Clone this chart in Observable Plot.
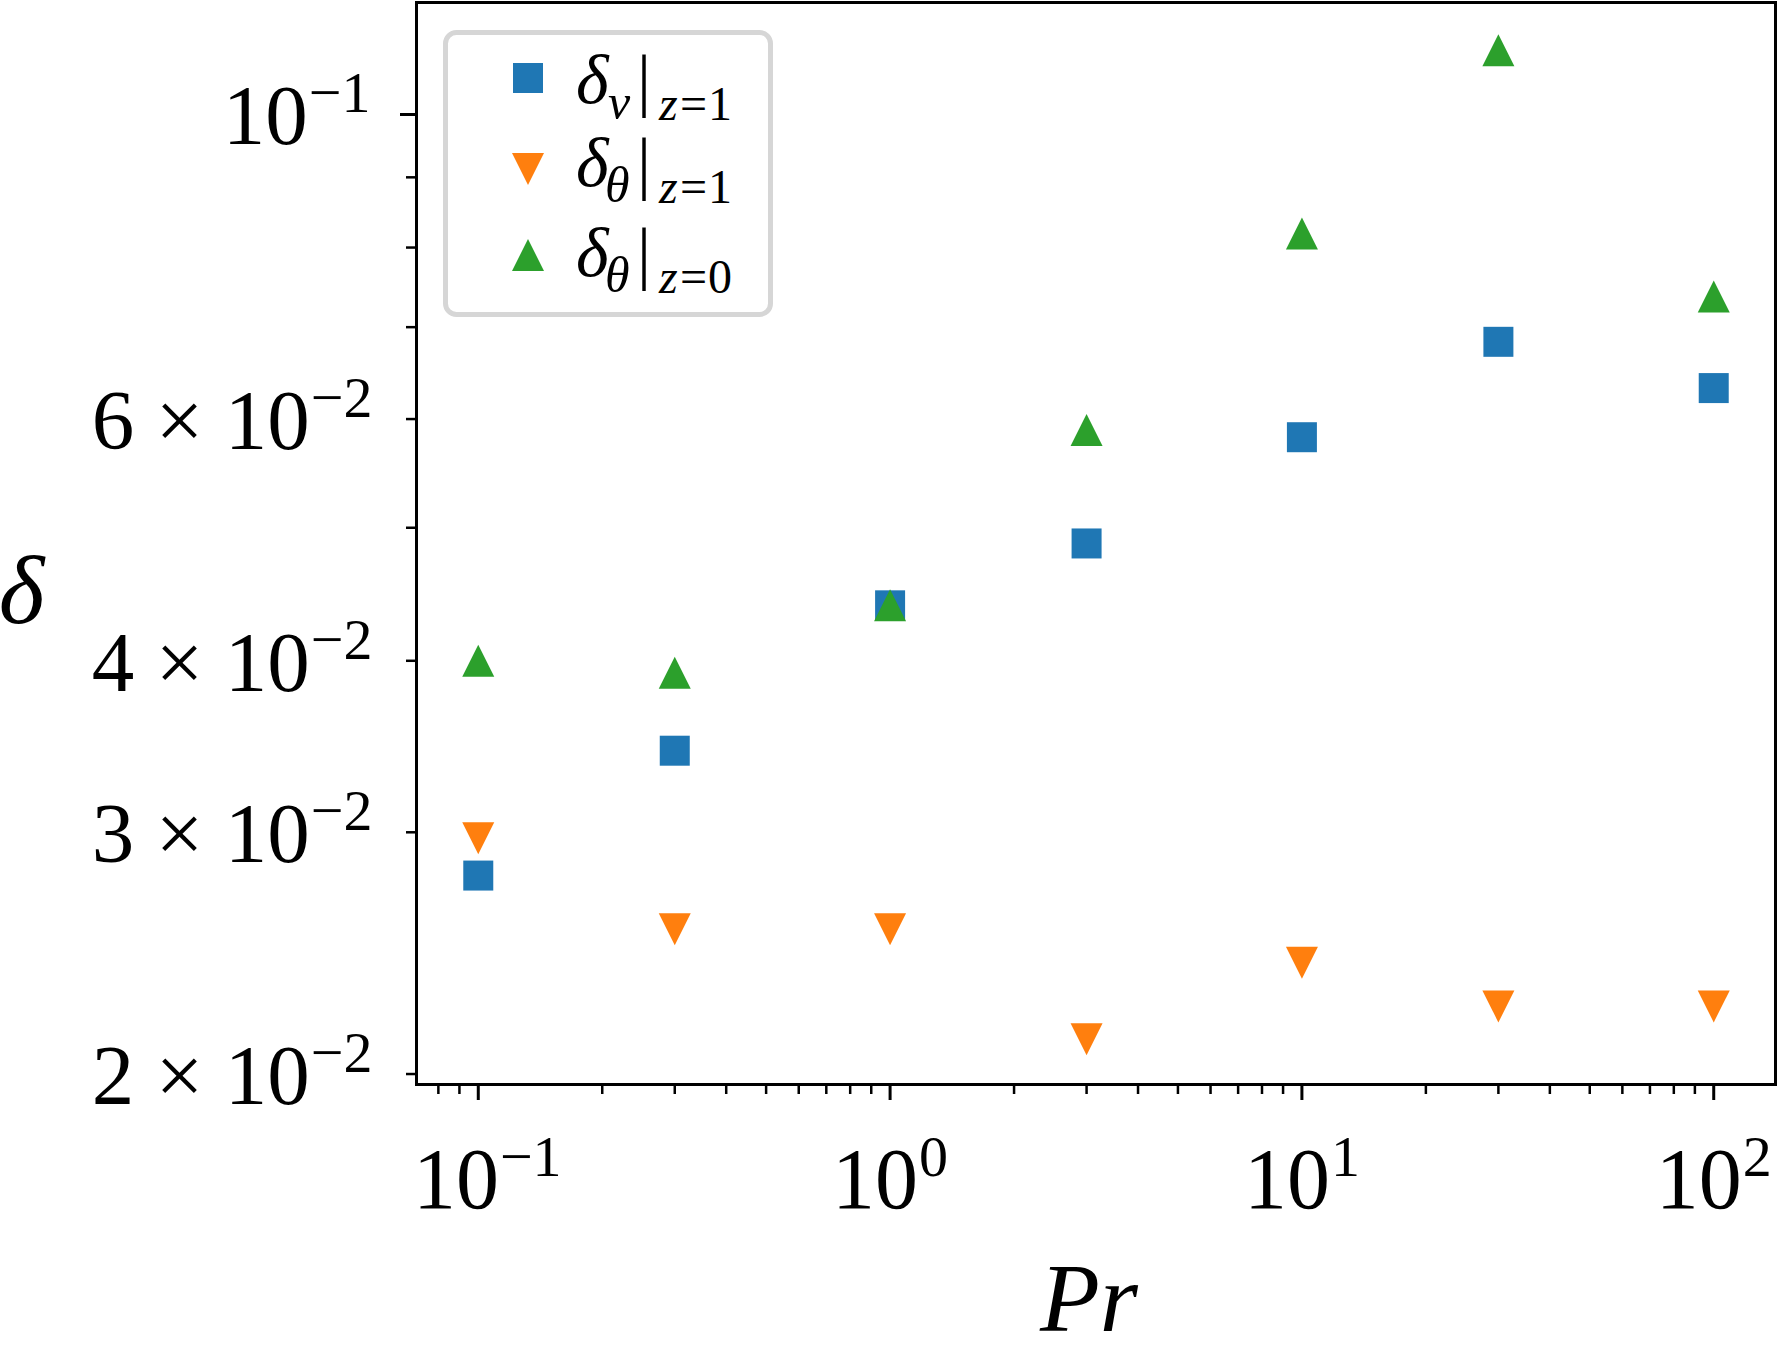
<!DOCTYPE html>
<html>
<head>
<meta charset="utf-8">
<script src="https://cdn.jsdelivr.net/npm/d3@7"></script>
<script src="https://cdn.jsdelivr.net/npm/@observablehq/plot@0.6"></script>
<style>
  html, body { margin: 0; padding: 0; background: #fff; }
  #wrap { width: 1778px; height: 1359px; }
  svg { display: block; }
</style>
</head>
<body>
<div id="wrap"></div>
<script>
// ---- data ----
const Pr = [0.1, 0.3, 1, 3, 10, 30, 100];
const deltaNuZ1    = [0.0279, 0.0344, 0.0439, 0.0487, 0.0582, 0.0683, 0.0632];
const deltaThetaZ1 = [0.0297, 0.0255, 0.0255, 0.0212, 0.0241, 0.0224, 0.0224];
const deltaThetaZ0 = [0.0400, 0.0392, 0.0439, 0.0589, 0.0819, 0.1114, 0.0737];
const seriesColors = ["#1f77b4", "#ff7f0e", "#2ca02c"];

const xTicks = [0.1, 1, 10, 100];
const xTickLabels = ["10^\u22121", "10^0", "10^1", "10^2"];
const yMajorTicks = [0.1];
const yMajorLabels = ["10^\u22121"];
const yLabeledMinorTicks = [0.02, 0.03, 0.04, 0.06];
const yLabeledMinorLabels = ["2 \u00d7 10^\u22122", "3 \u00d7 10^\u22122", "4 \u00d7 10^\u22122", "6 \u00d7 10^\u22122"];
const yUnlabeledMinorTicks = [0.05, 0.07, 0.08, 0.09];

const xDomain = [10 ** -1.15, 10 ** 2.15];
const yDomain = [10 ** -1.7066, 10 ** -0.9184];

const xMinorTicks = [];
for (let e = -2; e <= 1; e++) for (let m = 2; m <= 9; m++) {
  const v = m * 10 ** e;
  if (v > xDomain[0] && v < xDomain[1]) xMinorTicks.push(v);
}

// ---- matplotlib-like marker shapes ----
const rad = (size) => Math.sqrt(size / Math.PI);
const squareSym = {draw(c, s) { const r = rad(s); c.moveTo(-r, -r); c.lineTo(r, -r); c.lineTo(r, r); c.lineTo(-r, r); c.closePath(); }};
const triUpSym  = {draw(c, s) { const r = rad(s); c.moveTo(0, -r); c.lineTo(r, r); c.lineTo(-r, r); c.closePath(); }};
const triDnSym  = {draw(c, s) { const r = rad(s); c.moveTo(0, r); c.lineTo(r, -r); c.lineTo(-r, -r); c.closePath(); }};

const rows = (ys) => Pr.map((x, i) => ({x, y: ys[i]}));

const serif = "'Liberation Serif', 'Times New Roman', serif";

const chart = Plot.plot({
  width: 1778,
  height: 1359,
  marginLeft: 416,
  marginRight: 3,
  marginTop: 2,
  marginBottom: 275,
  style: {fontFamily: serif, background: "white", color: "black", overflow: "visible"},
  x: {type: "log", domain: xDomain},
  y: {type: "log", domain: yDomain},
  marks: [
    Plot.axisX(xMinorTicks, {tickSize: 10, strokeWidth: 2.5, tickFormat: () => "", label: null}),
    Plot.axisX(xTicks, {tickSize: 16, strokeWidth: 3, tickPadding: 46, fontSize: 86,
      tickFormat: (d) => xTickLabels[xTicks.indexOf(d)], label: null}),
    Plot.axisY(yUnlabeledMinorTicks, {tickSize: 10, strokeWidth: 2.5, tickFormat: () => "", label: null}),
    Plot.axisY(yLabeledMinorTicks, {tickSize: 10, strokeWidth: 2.5, tickPadding: 34, fontSize: 85,
      tickFormat: (d) => yLabeledMinorLabels[yLabeledMinorTicks.indexOf(d)], label: null}),
    Plot.axisY(yMajorTicks, {tickSize: 16, strokeWidth: 3, tickPadding: 30, fontSize: 85,
      tickFormat: (d) => yMajorLabels[yMajorTicks.indexOf(d)], label: null}),
    Plot.dot(rows(deltaNuZ1),    {x: "x", y: "y", symbol: squareSym, r: 15, fill: seriesColors[0], stroke: null}),
    Plot.dot(rows(deltaThetaZ1), {x: "x", y: "y", symbol: triDnSym,  r: 16, fill: seriesColors[1], stroke: null}),
    Plot.dot(rows(deltaThetaZ0), {x: "x", y: "y", symbol: triUpSym,  r: 16, fill: seriesColors[2], stroke: null}),
    Plot.frame({stroke: "black", strokeWidth: 3}),
    Plot.text(["Pr"], {text: (d) => d, frameAnchor: "bottom", lineAnchor: "bottom", dx: -7, dy: 246,
      fontSize: 98, fontStyle: "italic", fill: "black"}),
    Plot.text(["\u03b4"], {text: (d) => d, frameAnchor: "left", textAnchor: "middle", lineAnchor: "bottom",
      dx: -395, dy: 79, fontSize: 98, fontStyle: "italic", fill: "black"})
  ]
});

// superscripts for the math-style tick labels
const SVGNS = "http://www.w3.org/2000/svg";
d3.select(chart).selectAll("text").each(function () {
  const s = this.textContent;
  if (!s.includes("^")) return;
  const [base, exp] = s.split("^");
  this.textContent = "";
  this.appendChild(document.createTextNode(base));
  const t = document.createElementNS(SVGNS, "tspan");
  t.setAttribute("dy", "-32");
  t.setAttribute("dx", "1");
  t.setAttribute("font-size", "58");
  t.textContent = exp;
  this.appendChild(t);
  const g = this.parentNode;
  const aria = (g && g.getAttribute("aria-label")) || "";
  if (aria.startsWith("y-axis")) this.setAttribute("y", "0.35em");
  // matplotlib leaves negative-exponent x labels slightly right of centre
  if (aria.startsWith("x-axis") && exp.startsWith("\u2212")) this.setAttribute("x", "9");
});

// legend (matplotlib style box, upper left)
const legendEntries = [
  {sym: squareSym, r: 15, color: seriesColors[0], sub: "\u03bd", z: "1"},
  {sym: triDnSym,  r: 16, color: seriesColors[1], sub: "\u03b8", z: "1"},
  {sym: triUpSym,  r: 16, color: seriesColors[2], sub: "\u03b8", z: "0"}
];
const legendMarkerY = [78, 169, 255];
const legendBaseY = [103, 186, 276];
const svg = d3.select(chart);
const lg = svg.append("g").attr("aria-label", "legend").attr("font-family", serif).attr("text-anchor", "start");
lg.append("rect")
  .attr("x", 445.5).attr("y", 32.5).attr("width", 325).attr("height", 282).attr("rx", 11)
  .attr("fill", "white").attr("fill-opacity", 0.8).attr("stroke", "#d6d6d6").attr("stroke-width", 5);
legendEntries.forEach((e, i) => {
  lg.append("path")
    .attr("d", d3.symbol(e.sym, Math.PI * e.r * e.r)())
    .attr("transform", `translate(528,${legendMarkerY[i]})`)
    .attr("fill", e.color);
  const by = legendBaseY[i];
  const t = lg.append("text").attr("font-size", 70).attr("fill", "black").attr("text-anchor", "start");
  t.append("tspan").attr("x", 576).attr("y", by).attr("font-style", "italic").text("\u03b4");
  t.append("tspan").attr("x", e.sub === "\u03bd" ? 608 : 605).attr("y", by + 16).attr("font-size", 50).attr("font-style", "italic").text(e.sub);
  t.append("tspan").attr("x", 637).attr("y", by).text("|");
  t.append("tspan").attr("x", 659).attr("y", by + 17).attr("font-size", 48).attr("font-style", "italic").text("z");
  t.append("tspan").attr("x", 680).attr("y", by + 17).attr("font-size", 48).text("=");
  t.append("tspan").attr("x", 708).attr("y", by + 17).attr("font-size", 48).text(e.z);
});

document.getElementById("wrap").appendChild(chart);
</script>
</body>
</html>
